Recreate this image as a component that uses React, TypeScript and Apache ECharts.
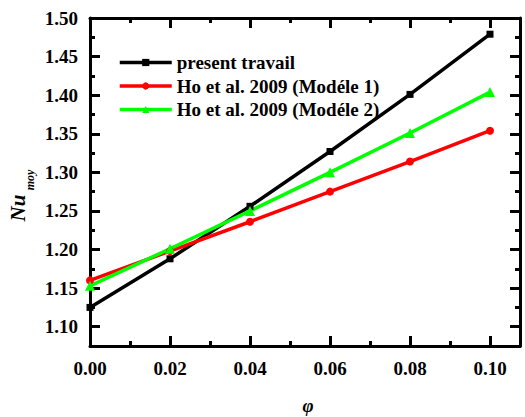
import React, { useEffect, useRef } from "react";
import * as echarts from "echarts";

const xValues = [0, 0.02, 0.04, 0.06, 0.08, 0.1];
const presentTravail = [1.125, 1.188, 1.256, 1.327, 1.401, 1.479];
const hoModele1 = [1.160, 1.198, 1.236, 1.275, 1.314, 1.354];
const hoModele2 = [1.153, 1.201, 1.250, 1.300, 1.351, 1.404];

const xMajor = [0, 0.02, 0.04, 0.06, 0.08, 0.1];
const xMinor = [0.01, 0.03, 0.05, 0.07, 0.09];
const yMajor = [1.1, 1.15, 1.2, 1.25, 1.3, 1.35, 1.4, 1.45, 1.5];
const yMinor = [1.125, 1.175, 1.225, 1.275, 1.325, 1.375, 1.425, 1.475];

const seriesNames = ["present travail", "Ho et al. 2009 (Modéle 1)", "Ho et al. 2009 (Modéle 2)"];

const FONT = "Liberation Serif";
const X_MIN = 0, X_MAX = 0.1075, Y_MIN = 1.075, Y_MAX = 1.5;

export default function App() {
  const ref = useRef<HTMLDivElement>(null);
  useEffect(() => {
    const chart = echarts.init(ref.current!, null, { renderer: "svg" });
    const lineW = 3;
    const labelStyle = { fontFamily: FONT, fontWeight: "bold" as const, fontSize: 19, color: "#000" };
    const mkX = (position: string, major: boolean, withLine: boolean, labels: boolean) => ({
      type: "value", position, min: X_MIN, max: X_MAX,
      axisLine: { show: withLine, onZero: false, lineStyle: { color: "#000", width: lineW } },
      axisTick: { show: true, inside: true, length: major ? 10 : 5, customValues: major ? xMajor : xMinor, lineStyle: { color: "#000", width: lineW } },
      axisLabel: labels ? { show: true, customValues: xMajor, margin: 13, formatter: (v: number) => v.toFixed(2), ...labelStyle } : { show: false },
      splitLine: { show: false },
    });
    const mkY = (position: string, major: boolean, withLine: boolean, labels: boolean) => ({
      type: "value", position, min: Y_MIN, max: Y_MAX,
      axisLine: { show: withLine, onZero: false, lineStyle: { color: "#000", width: lineW } },
      axisTick: { show: true, inside: true, length: major ? 10 : 5, customValues: major ? yMajor : yMinor, lineStyle: { color: "#000", width: lineW } },
      axisLabel: labels ? { show: true, customValues: yMajor, margin: 12, formatter: (v: number) => v.toFixed(2), ...labelStyle } : { show: false },
      splitLine: { show: false },
    });
    const mkSeries = (name: string, data: number[], color: string, symbol: string, size: number) => ({
      name, type: "line", xAxisIndex: 0, yAxisIndex: 0,
      data: xValues.map((x, i) => [x, data[i]]),
      symbol, symbolSize: size, showSymbol: true,
      lineStyle: { color, width: 3.5 }, itemStyle: { color },
    });
    chart.setOption({
      animation: false,
      grid: { left: 90, right: 5, top: 18, bottom: 71 },
      xAxis: [mkX("bottom", true, true, true), mkX("bottom", false, false, false), mkX("top", true, true, false), mkX("top", false, false, false)],
      yAxis: [mkY("left", true, true, true), mkY("left", false, false, false), mkY("right", true, true, false), mkY("right", false, false, false)],
      legend: {
        orient: "vertical", left: 113, top: 48, itemWidth: 52, itemHeight: 9, itemGap: 4.5,
        data: seriesNames,
        lineStyle: { width: 3.5 },
        textStyle: { fontFamily: FONT, fontWeight: "bold", fontSize: 19, color: "#000", lineHeight: 19 },
      },
      graphic: [
        { type: "text", x: 18, y: 208, rotation: Math.PI / 2, style: { text: "Nu", fontFamily: FONT, fontWeight: "bold", fontStyle: "italic", fontSize: 21, fill: "#000", align: "center", verticalAlign: "middle" } },
        { type: "text", x: 30, y: 180, rotation: Math.PI / 2, style: { text: "moy", fontFamily: FONT, fontWeight: "bold", fontStyle: "italic", fontSize: 12, fill: "#000", align: "center", verticalAlign: "middle" } },
        { type: "text", x: 308, y: 405, style: { text: "φ", fontFamily: FONT, fontWeight: "bold", fontStyle: "italic", fontSize: 19, fill: "#000", align: "center", verticalAlign: "middle" } },
      ],
      series: [
        mkSeries(seriesNames[0], presentTravail, "#000000", "rect", 7),
        mkSeries(seriesNames[1], hoModele1, "#ff0000", "circle", 8),
        mkSeries(seriesNames[2], hoModele2, "#00ff00", "triangle", 10),
      ],
    });
    return () => chart.dispose();
  }, []);
  return <div ref={ref} style={{ position: "fixed", left: 0, top: 0, width: 525, height: 417, background: "#fff" }} />;
}
